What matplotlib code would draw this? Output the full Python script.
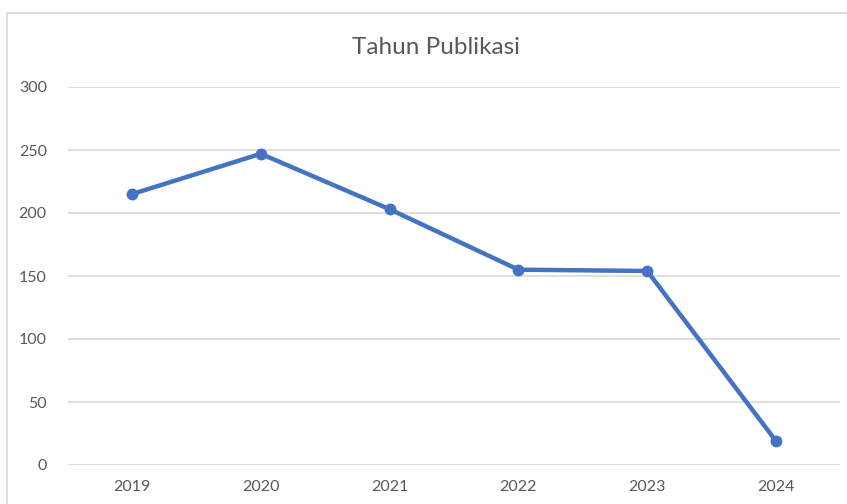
"""Tahun Publikasi line chart (Excel style)."""
import matplotlib
matplotlib.use("Agg")
import matplotlib.pyplot as plt
from matplotlib.lines import Line2D

years = ["2019", "2020", "2021", "2022", "2023", "2024"]
counts = [215, 247, 203, 155, 154, 19]
y_ticks = [0, 50, 100, 150, 200, 250, 300]

LINE = "#4472C4"
GRID = "#D9D9D9"
TXT = "#595959"
FONT = ["Lato", "DejaVu Sans"]

W, H = 847, 504
fig = plt.figure(figsize=(W / 100, H / 100), dpi=100)
fig.patch.set_facecolor("white")

# chart frame (top and left edge visible)
fig.add_artist(Line2D([7 / W, 1.01], [1 - 13 / H, 1 - 13 / H], color=GRID, lw=1.2,
                      transform=fig.transFigure))
fig.add_artist(Line2D([7 / W, 7 / W], [-0.01, 1 - 13 / H], color=GRID, lw=1.2,
                      transform=fig.transFigure))

ax = fig.add_axes([67.6 / W, 1 - 465 / H, (840.4 - 67.6) / W, (465 - 87) / H])
x = list(range(len(years)))
ax.plot(x, counts, color=LINE, lw=3.2, marker="o", ms=7.5, zorder=3,
        solid_capstyle="round")

ax.set_xlim(-0.5, len(years) - 0.5)
ax.set_ylim(0, 300)
ax.set_yticks(y_ticks)
ax.set_xticks(x)
ax.set_xticklabels(years)
ax.grid(axis="y", color=GRID, lw=1.2)
ax.set_axisbelow(True)
for s in ax.spines.values():
    s.set_visible(False)
ax.tick_params(length=0, colors=TXT, labelsize=11.5)
ax.tick_params(axis="y", pad=15)
ax.tick_params(axis="x", pad=11)
for lab in ax.get_xticklabels() + ax.get_yticklabels():
    lab.set_family(FONT)

fig.text(436 / W, 1 - 47 / H, "Tahun Publikasi", ha="center", va="center",
         color=TXT, fontsize=17.5, family=FONT)

plt.savefig("out.png", dpi=100, facecolor="white")
